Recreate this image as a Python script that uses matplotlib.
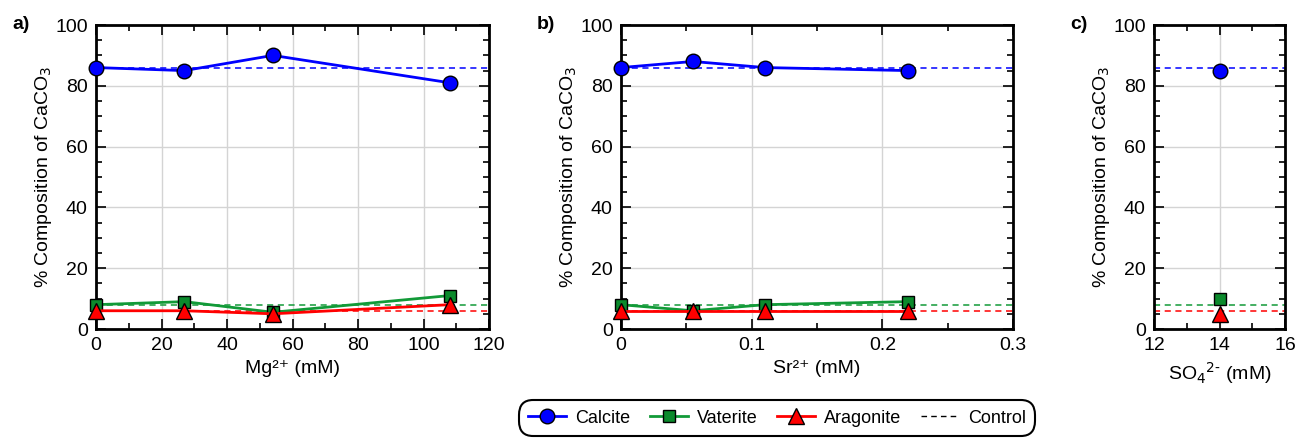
import matplotlib
matplotlib.use("Agg")
import matplotlib.pyplot as plt
from matplotlib.ticker import MultipleLocator
from matplotlib.lines import Line2D

plt.rcParams['font.family'] = ['Liberation Sans', 'DejaVu Sans']

# Panel a: Mg2+
mg_x = [0, 27, 54, 108]
mg_calcite = [86, 85, 90, 81]
mg_vaterite = [8, 9, 5.5, 11]
mg_aragonite = [6, 6, 5, 8]

# Panel b: Sr2+
sr_x = [0, 0.055, 0.11, 0.22]
sr_calcite = [86, 88, 86, 85]
sr_vaterite = [8, 6, 8, 9]
sr_aragonite = [6, 6, 6, 6]

# Panel c: SO4 2-
so4_x = [14]
so4_calcite = [85]
so4_vaterite = [10]
so4_aragonite = [5]

# Control values
ctrl_calcite = 86
ctrl_vaterite = 8
ctrl_aragonite = 6

blue = '#0000ff'
green = '#129a38'
red = '#ff0000'
fill_green = '#0b8a2c'

fig = plt.figure(figsize=(12.96, 4.40), dpi=100)
W, H = 1296, 440

def ax_at(l, r, t, b):
    return fig.add_axes([l / W, 1 - b / H, (r - l) / W, (b - t) / H])

axA = ax_at(96, 489, 25, 329)
axB = ax_at(621, 1013, 25, 329)
axC = ax_at(1154, 1285, 25, 329)

panels = [
    (axA, mg_x, mg_calcite, mg_vaterite, mg_aragonite, (0, 120), 10, 'Mg²⁺ (mM)', 'a)', [0, 20, 40, 60, 80, 100, 120], ['0', '20', '40', '60', '80', '100', '120']),
    (axB, sr_x, sr_calcite, sr_vaterite, sr_aragonite, (0, 0.3), 0.05, 'Sr²⁺ (mM)', 'b)', [0, 0.1, 0.2, 0.3], ['0', '0.1', '0.2', '0.3']),
    (axC, so4_x, so4_calcite, so4_vaterite, so4_aragonite, (12, 16), 1, 'SO$_4$$^{2\\text{-}}$ (mM)', 'c)', [12, 14, 16], ['12', '14', '16']),
]

dash = (0, (4, 3))
for ax, x, ca, va, ar, xlim, mnr, xlabel, tag, xt, xtl in panels:
    ax.set_xlim(*xlim)
    ax.set_ylim(0, 100)
    ax.grid(True, which='major', color='#d4d4d4', linewidth=1.0)
    ax.set_axisbelow(True)
    # control lines
    ax.axhline(ctrl_calcite, color=blue, ls=dash, lw=1.1, zorder=2)
    ax.axhline(ctrl_vaterite, color=green, ls=dash, lw=1.1, zorder=2)
    ax.axhline(ctrl_aragonite, color=red, ls=dash, lw=1.1, zorder=2)
    ax.plot(x, ca, color=blue, lw=2, marker='o', ms=10.5, mfc=blue, mec='black', mew=1, zorder=5, clip_on=False)
    ax.plot(x, va, color=green, lw=2, marker='s', ms=9, mfc=fill_green, mec='black', mew=1, zorder=4, clip_on=False)
    ax.plot(x, ar, color=red, lw=2, marker='^', ms=11.5, mfc=red, mec='black', mew=1, zorder=6, clip_on=False)
    ax.set_xticks(xt)
    ax.set_xticklabels(xtl)
    ax.xaxis.set_minor_locator(MultipleLocator(mnr))
    ax.yaxis.set_major_locator(MultipleLocator(20))
    ax.yaxis.set_minor_locator(MultipleLocator(5))
    ax.tick_params(which='both', direction='in', top=True, right=True, labelsize=14, width=1.2)
    ax.tick_params(which='major', length=7, pad=6)
    ax.tick_params(which='minor', length=4)
    for s in ax.spines.values():
        s.set_linewidth(2)
    ax.set_xlabel(xlabel, fontsize=14, labelpad=4)
    ax.set_ylabel('% Composition of CaCO$_3$', fontsize=14, labelpad=1)
    bb = ax.get_position()
    fig.text(bb.x0 - 84 / W, 0.925, tag, fontsize=14, fontweight='bold', ha='left', va='bottom')

handles = [
    Line2D([], [], color=blue, lw=2, marker='o', ms=10.5, mfc=blue, mec='black', mew=1),
    Line2D([], [], color=green, lw=2, marker='s', ms=9, mfc=fill_green, mec='black', mew=1),
    Line2D([], [], color=red, lw=2, marker='^', ms=11.5, mfc=red, mec='black', mew=1),
    Line2D([], [], color='black', lw=1, ls=dash),
]
labels = ['Calcite', 'Vaterite', 'Aragonite', 'Control']
leg = fig.legend(handles, labels, loc='center', bbox_to_anchor=(777 / W, 1 - 418 / H),
                 ncol=4, fontsize=13, frameon=True, fancybox=True, edgecolor='black',
                 handlelength=2.1, columnspacing=1.1, handletextpad=0.5, borderpad=0.5,
                 framealpha=1)
leg.get_frame().set_linewidth(1.5)
leg.get_frame().set_boxstyle('round', pad=0.0, rounding_size=0.8)

fig.savefig('out.png', dpi=100)
